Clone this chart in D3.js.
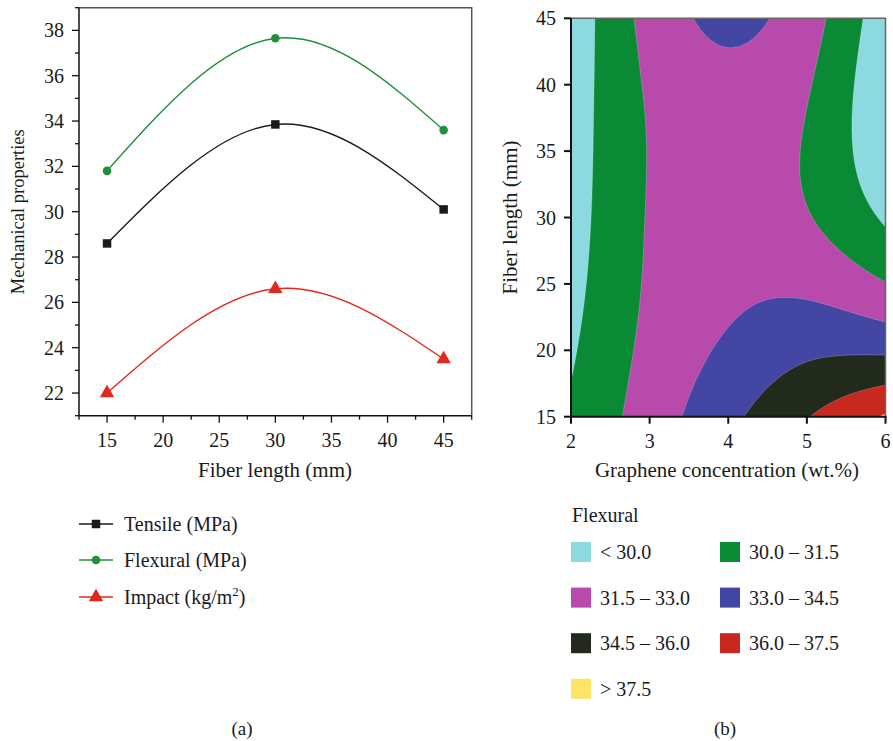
<!DOCTYPE html>
<html>
<head>
<meta charset="utf-8">
<script src="https://cdn.jsdelivr.net/npm/d3@7"></script>
<style>
  body { margin: 0; background: #fff; }
  svg text { font-family: 'Liberation Serif', 'DejaVu Serif', serif; fill: #1a1a1a; }
</style>
</head>
<body>
<svg id="fig" width="893" height="741"></svg>
<script>
// ── DATA ────────────────────────────────────────────────────────────────
// (a) mechanical properties vs fiber length
const fiberLengths = [15, 30, 45];
const tensile  = [28.6, 33.85, 30.1];
const flexural = [31.8, 37.65, 33.6];
const impact   = [22.0, 26.6, 23.5];
const xTicksA = [15, 20, 25, 30, 35, 40, 45];
const yTicksA = [22, 24, 26, 28, 30, 32, 34, 36, 38];

// (b) flexural response surface, values read at grid nodes
const grapheneLevels = [2, 3, 4, 5, 6];
const fiberLevels    = [15, 22.5, 30, 37.5, 45];
const flexuralGrid = [           // rows = fiberLevels, cols = grapheneLevels
  [30.2, 32.19, 34.13, 35.93, 37.65],
  [29.67, 31.75, 32.9, 33.4, 32.8],
  [29.35, 31.6, 32.35, 31.6, 29.8],
  [29.24, 31.6, 32.44, 31.45, 28.7],
  [29.0, 32.0, 33.3, 32.15, 29.0]
];
const bandThresholds = [30, 31.5, 33, 34.5, 36, 37.5];
const bandLabels = ['< 30.0', '30.0 – 31.5', '31.5 – 33.0', '33.0 – 34.5', '34.5 – 36.0', '36.0 – 37.5', '> 37.5'];
const bandColors = ['#8cd9e0', '#0b8a36', '#b84aab', '#4346a3', '#222a1e', '#c8291f', '#fbe466'];
const xTicksB = [2, 3, 4, 5, 6];
const yTicksB = [15, 20, 25, 30, 35, 40, 45];

const svg = d3.select('#fig');
const FS = '20px';

// ── (a) LINE CHART ──────────────────────────────────────────────────────
const A = { left: 79, right: 471.7, top: 7.7, bottom: 415.7 };
const xA = d3.scaleLinear().domain([12.5, 47.5]).range([A.left, A.right]);
const yA = d3.scaleLinear().domain([21, 39]).range([A.bottom, A.top]);

const ga = svg.append('g');
// frame top/right
ga.append('path')
  .attr('d', `M${A.left},${A.top}H${A.right}V${A.bottom}`)
  .attr('fill', 'none').attr('stroke', '#555').attr('stroke-width', 1.5);

// y axis
const yMinorA = d3.range(21, 39.01, 1).filter(v => yTicksA.indexOf(v) < 0);
ga.append('line').attr('x1', A.left).attr('x2', A.left).attr('y1', A.top).attr('y2', A.bottom)
  .attr('stroke', '#111').attr('stroke-width', 1.5);
ga.selectAll('.ymaj').data(yTicksA).enter().append('line')
  .attr('x1', A.left - 7).attr('x2', A.left).attr('y1', d => yA(d)).attr('y2', d => yA(d))
  .attr('stroke', '#111').attr('stroke-width', 1.3);
ga.selectAll('.ymin').data(yMinorA).enter().append('line')
  .attr('x1', A.left - 4).attr('x2', A.left).attr('y1', d => yA(d)).attr('y2', d => yA(d))
  .attr('stroke', '#111').attr('stroke-width', 1.3);
ga.selectAll('.ylbl').data(yTicksA).enter().append('text')
  .attr('x', A.left - 15).attr('y', d => yA(d) + 7)
  .attr('text-anchor', 'end').attr('font-size', FS).text(d => d);

// x axis
const xMinorA = d3.range(12.5, 47.51, 5);
ga.append('line').attr('x1', A.left).attr('x2', A.right).attr('y1', A.bottom).attr('y2', A.bottom)
  .attr('stroke', '#111').attr('stroke-width', 1.5);
ga.selectAll('.xmaj').data(xTicksA).enter().append('line')
  .attr('x1', d => xA(d)).attr('x2', d => xA(d)).attr('y1', A.bottom).attr('y2', A.bottom + 7)
  .attr('stroke', '#111').attr('stroke-width', 1.3);
ga.selectAll('.xmin').data(xMinorA).enter().append('line')
  .attr('x1', d => xA(d)).attr('x2', d => xA(d)).attr('y1', A.bottom).attr('y2', A.bottom + 4)
  .attr('stroke', '#111').attr('stroke-width', 1.3);
ga.selectAll('.xlbl').data(xTicksA).enter().append('text')
  .attr('x', d => xA(d)).attr('y', A.bottom + 31)
  .attr('text-anchor', 'middle').attr('font-size', FS).text(d => d);

ga.append('text').attr('x', 275).attr('y', 477)
  .attr('text-anchor', 'middle').attr('font-size', '21px').text('Fiber length (mm)');
ga.append('text').attr('transform', `translate(24,${(A.top + A.bottom) / 2}) rotate(-90)`)
  .attr('text-anchor', 'middle').attr('font-size', '18.5px').text('Mechanical properties');

const seriesA = [
  { name: 'Tensile (MPa)', values: tensile, color: '#1a1a1a', marker: 'square' },
  { name: 'Flexural (MPa)', values: flexural, color: '#1f8f3a', marker: 'circle' },
  { name: 'Impact', values: impact, color: '#e0281c', marker: 'triangle' }
];
const sym = { square: d3.symbolSquare, circle: d3.symbolCircle, triangle: d3.symbolTriangle };
const symSize = { square: 72, circle: 58, triangle: 90 };

const line = d3.line().x((d, i) => xA(fiberLengths[i])).y(d => yA(d)).curve(d3.curveNatural);
seriesA.forEach(s => {
  ga.append('path').datum(s.values).attr('d', line)
    .attr('fill', 'none').attr('stroke', s.color).attr('stroke-width', 1.4);
  ga.selectAll(null).data(s.values).enter().append('path')
    .attr('transform', (d, i) => `translate(${xA(fiberLengths[i])},${yA(d)})`)
    .attr('d', d3.symbol().type(sym[s.marker]).size(symSize[s.marker]))
    .attr('fill', s.color);
});

// legend (a)
const legA = svg.append('g');
seriesA.forEach((s, i) => {
  const y = [524, 560, 597][i];
  legA.append('line').attr('x1', 79).attr('x2', 113).attr('y1', y).attr('y2', y)
    .attr('stroke', s.color).attr('stroke-width', 1.4);
  legA.append('path').attr('transform', `translate(96,${y})`)
    .attr('d', d3.symbol().type(sym[s.marker]).size(symSize[s.marker]))
    .attr('fill', s.color);
  const t = legA.append('text').attr('x', 124).attr('y', y + 7).attr('font-size', FS);
  if (s.marker === 'triangle') {
    t.append('tspan').text('Impact (kg/m');
    t.append('tspan').attr('dy', -8).attr('font-size', '13px').text('2');
    t.append('tspan').attr('dy', 8).text(')');
  } else {
    t.text(s.name);
  }
});

// ── (b) CONTOUR PLOT ────────────────────────────────────────────────────
const B = { left: 571, right: 885.5, top: 18.3, bottom: 416.7 };
const xB = d3.scaleLinear().domain([2, 6]).range([B.left, B.right]);
const yB = d3.scaleLinear().domain([15, 45]).range([B.bottom, B.top]);

// natural cubic spline through the grid nodes
function spline(xs, ys) {
  const n = xs.length, h = [], al = [], l = [1], mu = [0], z = [0], c = new Array(n).fill(0), b = [], d = [];
  for (let i = 0; i < n - 1; i++) h[i] = xs[i + 1] - xs[i];
  for (let i = 1; i < n - 1; i++) al[i] = 3 / h[i] * (ys[i + 1] - ys[i]) - 3 / h[i - 1] * (ys[i] - ys[i - 1]);
  for (let i = 1; i < n - 1; i++) {
    l[i] = 2 * (xs[i + 1] - xs[i - 1]) - h[i - 1] * mu[i - 1];
    mu[i] = h[i] / l[i];
    z[i] = (al[i] - h[i - 1] * z[i - 1]) / l[i];
  }
  z[n - 1] = 0;
  for (let j = n - 2; j >= 0; j--) {
    c[j] = z[j] - mu[j] * c[j + 1];
    b[j] = (ys[j + 1] - ys[j]) / h[j] - h[j] * (c[j + 1] + 2 * c[j]) / 3;
    d[j] = (c[j + 1] - c[j]) / (3 * h[j]);
  }
  return x => {
    let j = Math.min(n - 2, Math.max(0, d3.bisectRight(xs, x) - 1));
    const t = x - xs[j];
    return ys[j] + b[j] * t + c[j] * t * t + d[j] * t * t * t;
  };
}

const nx = 240, ny = 300;
const gx = d3.scaleLinear().domain([0, nx]).range([2, 6]);
const gy = d3.scaleLinear().domain([0, ny]).range([45, 15]);
const rowSplines = flexuralGrid.map(r => spline(grapheneLevels, r));
const values = new Array(nx * ny);
for (let i = 0; i < nx; i++) {
  const xv = gx(i + 0.5);
  const col = spline(fiberLevels, rowSplines.map(f => f(xv)));
  for (let j = 0; j < ny; j++) values[i + j * nx] = col(gy(j + 0.5));
}

const contours = d3.contours().size([nx, ny]).thresholds(bandThresholds)(values);
const toPx = d3.geoTransform({
  point: function (x, y) { this.stream.point(xB(gx(x)), yB(gy(y))); }
});
const geo = d3.geoPath(toPx);

svg.append('clipPath').attr('id', 'clipB').append('rect')
  .attr('x', B.left).attr('y', B.top).attr('width', B.right - B.left).attr('height', B.bottom - B.top);
const gb = svg.append('g');
const plotB = gb.append('g').attr('clip-path', 'url(#clipB)');
plotB.append('rect').attr('x', B.left).attr('y', B.top)
  .attr('width', B.right - B.left).attr('height', B.bottom - B.top).attr('fill', bandColors[0]);
plotB.selectAll('.band').data(contours).enter().append('path')
  .attr('d', geo).attr('fill', (d, i) => bandColors[i + 1])
  .attr('stroke', 'rgba(255,255,255,0.35)').attr('stroke-width', 0.6);

// frame top/right
gb.append('path').attr('d', `M${B.left},${B.top}H${B.right}V${B.bottom}`)
  .attr('fill', 'none').attr('stroke', '#666').attr('stroke-width', 1.5);
gb.append('line').attr('x1', B.left).attr('x2', B.left).attr('y1', B.top).attr('y2', B.bottom + 1)
  .attr('stroke', '#111').attr('stroke-width', 2);
gb.append('line').attr('x1', B.left - 1).attr('x2', B.right + 1).attr('y1', B.bottom).attr('y2', B.bottom)
  .attr('stroke', '#111').attr('stroke-width', 2);
gb.selectAll('.ytb').data(yTicksB).enter().append('line')
  .attr('x1', B.left - 7).attr('x2', B.left).attr('y1', d => yB(d)).attr('y2', d => yB(d))
  .attr('stroke', '#111').attr('stroke-width', 2);
gb.selectAll('.ylb').data(yTicksB).enter().append('text')
  .attr('x', B.left - 15).attr('y', d => yB(d) + 7)
  .attr('text-anchor', 'end').attr('font-size', FS).text(d => d);
gb.selectAll('.xtb').data(xTicksB).enter().append('line')
  .attr('x1', d => xB(d)).attr('x2', d => xB(d)).attr('y1', B.bottom).attr('y2', B.bottom + 7)
  .attr('stroke', '#111').attr('stroke-width', 2);
gb.selectAll('.xlb').data(xTicksB).enter().append('text')
  .attr('x', d => xB(d)).attr('y', B.bottom + 31)
  .attr('text-anchor', 'middle').attr('font-size', FS).text(d => d);
gb.append('text').attr('x', 727).attr('y', 477)
  .attr('text-anchor', 'middle').attr('font-size', '21px').text('Graphene concentration (wt.%)');
gb.append('text').attr('transform', `translate(517,${(B.top + B.bottom) / 2}) rotate(-90)`)
  .attr('text-anchor', 'middle').attr('font-size', '21px').text('Fiber length (mm)');

// legend (b)
const legB = svg.append('g');
legB.append('text').attr('x', 572).attr('y', 522).attr('font-size', FS).text('Flexural');
bandLabels.forEach((lab, i) => {
  const cx = i % 2 === 0 ? 571 : 720;
  const cy = 552 + Math.floor(i / 2) * 45.6;
  legB.append('rect').attr('x', cx).attr('y', cy - 10).attr('width', 20).attr('height', 20)
    .attr('fill', bandColors[i]);
  legB.append('text').attr('x', cx + 29).attr('y', cy + 7).attr('font-size', FS).text(lab);
});

// captions
svg.append('text').attr('x', 242).attr('y', 735).attr('text-anchor', 'middle').attr('font-size', '19px').text('(a)');
svg.append('text').attr('x', 725).attr('y', 735).attr('text-anchor', 'middle').attr('font-size', '19px').text('(b)');
</script>
</body>
</html>
